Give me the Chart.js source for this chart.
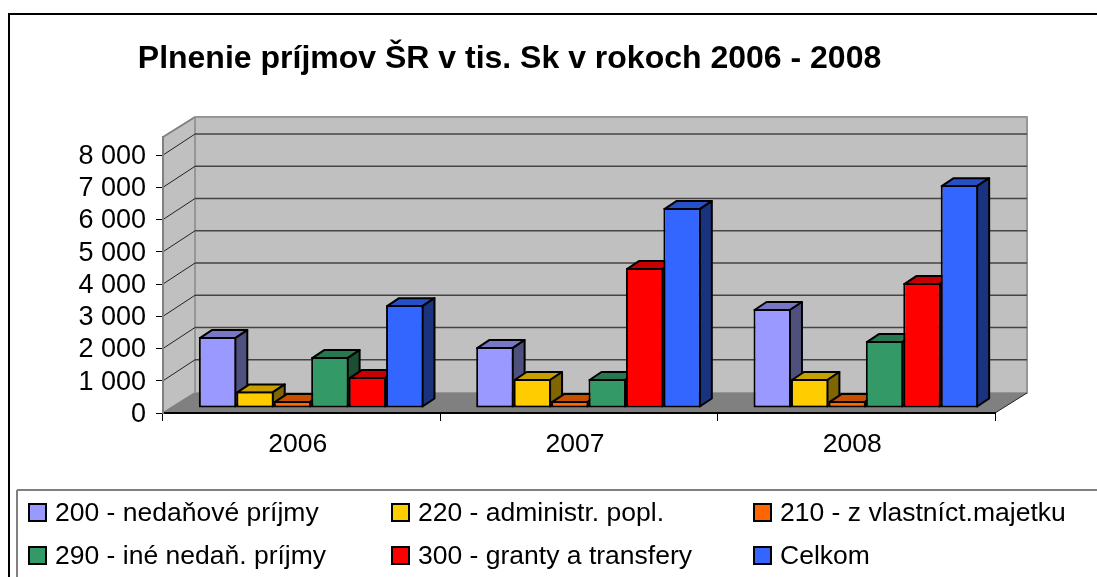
<!DOCTYPE html>
<html>
<head>
<meta charset="utf-8">
<style>
  html, body { margin: 0; padding: 0; background: #fff; overflow: hidden; }
  canvas { display: block; }
</style>
<script src="https://cdn.jsdelivr.net/npm/chart.js@4/dist/chart.umd.min.js"></script>
</head>
<body>
<canvas id="chart" width="1097" height="577"></canvas>
<script>
const titleText = 'Plnenie príjmov ŠR v tis. Sk v rokoch 2006 - 2008';
const categories = ['2006', '2007', '2008'];
const tickValues = [0, 1000, 2000, 3000, 4000, 5000, 6000, 7000, 8000];
const tickLabels = ['0', '1 000', '2 000', '3 000', '4 000', '5 000', '6 000', '7 000', '8 000'];

const seriesNames = ['200 - nedaňové príjmy', '220 - administr. popl.', '210 - z vlastníct.majetku',
                     '290 - iné nedaň. príjmy', '300 - granty a transfery', 'Celkom'];
const s200 = [2200, 1890, 3070];
const s220 = [515, 900, 900];
const s210 = [215, 215, 215];
const s290 = [1580, 900, 2075];
const s300 = [960, 4340, 3875];
const celkom = [3190, 6200, 6910];

const frontColors = ['#9999ff', '#ffcc00', '#ff6600', '#339966', '#ff0000', '#3366ff'];
const topColors = ['#7777c6', '#c69f00', '#c64f00', '#277750', '#c60000', '#274fc6'];
const sideColors = ['#50507f', '#7f6600', '#7f3300', '#1a4f33', '#7f0000', '#1a337f'];

const wallDx = 32, wallDy = 20;   // back wall offset
const gridDy = 21;                // gridlines climb a little more than the wall
const barDx = 9.5, barDy = 5;     // bars stand a bit behind the front axis
const sideDx = 12, sideDy = 8;    // depth of a bar

function poly(ctx, pts, fill, stroke, lw) {
    ctx.beginPath();
    ctx.moveTo(pts[0][0], pts[0][1]);
    for (let i = 1; i < pts.length; i++) ctx.lineTo(pts[i][0], pts[i][1]);
    ctx.closePath();
    if (fill) { ctx.fillStyle = fill; ctx.fill(); }
    if (stroke) { ctx.strokeStyle = stroke; ctx.lineWidth = lw; ctx.lineJoin = 'round'; ctx.stroke(); }
}

function line(ctx, x1, y1, x2, y2, color, lw) {
    ctx.beginPath();
    ctx.moveTo(x1, y1);
    ctx.lineTo(x2, y2);
    ctx.strokeStyle = color;
    ctx.lineWidth = lw;
    ctx.stroke();
}

const walls = {
    id: 'walls',
    beforeDraw(chart) {
        const ctx = chart.ctx, a = chart.chartArea, y = chart.scales.y;
        ctx.save();
        // outer frame, runs off the right and bottom of the picture
        line(ctx, 9, 14, 1097, 14, '#000', 2);
        line(ctx, 9, 13, 9, 577, '#000', 2);
        line(ctx, 17, 490, 1097, 490, '#808080', 2);
        line(ctx, 17, 490, 17, 577, '#808080', 2);

        const l = a.left, r = a.right, t = a.top, b = a.bottom;
        poly(ctx, [[l, b], [l, t], [l + wallDx, t - wallDy], [l + wallDx, b - wallDy]], '#c0c0c0', '#808080', 2);
        poly(ctx, [[l + wallDx, b - wallDy], [l + wallDx, t - wallDy], [r + wallDx, t - wallDy], [r + wallDx, b - wallDy]], '#c0c0c0', '#969696', 2);
        poly(ctx, [[l, b], [l + wallDx, b - wallDy], [r + wallDx, b - wallDy], [r, b]], '#808080');

        // wall gridlines follow the value scale
        tickValues.forEach(v => {
            if (v === 0) return;
            const py = y.getPixelForValue(v);
            line(ctx, l, py, l + wallDx, py - gridDy, '#222', 1);
            line(ctx, l + wallDx, py - gridDy, r + wallDx, py - gridDy, '#444', 1.5);
        });
        line(ctx, r, b, r + wallDx, b - wallDy, '#222', 1);
        ctx.restore();
    },
    // the library paints datasets last to first, here they must go left to right
    beforeDatasetDraw() {
        return false;
    },
    afterDatasetsDraw(chart) {
        const ctx = chart.ctx;
        ctx.save();
        ctx.translate(barDx, -barDy);
        chart.data.datasets.forEach((ds, i) => {
            const meta = chart.getDatasetMeta(i);
            // top and side faces, the library bar then goes over them as the front
            meta.data.forEach(bar => {
                const p = bar.getProps(['x', 'y', 'base', 'width'], true);
                const x1 = p.x - p.width / 2, x2 = p.x + p.width / 2, yTop = p.y, yBase = p.base;
                poly(ctx, [[x1 + 1, yTop + 1], [x1 + 1 + sideDx, yTop + 1 - sideDy], [x2 - 1 + sideDx, yTop + 1 - sideDy], [x2 - 1, yTop + 1]], topColors[i], '#000', 2);
                poly(ctx, [[x2 - 1, yTop + 1], [x2 - 1 + sideDx, yTop + 1 - sideDy], [x2 - 1 + sideDx, yBase - 1 - sideDy], [x2 - 1, yBase - 1]], sideColors[i], '#000', 2);
            });
            meta.controller.draw();
        });
        ctx.restore();
    },
    afterDraw(chart) {
        // legend in three fixed columns
        const ctx = chart.ctx;
        const colX = [29, 392, 754], rowY = [512, 555];
        ctx.save();
        ctx.font = '26.5px "Liberation Sans", Arial, sans-serif';
        ctx.textBaseline = 'middle';
        chart.data.datasets.forEach((ds, i) => {
            const x = colX[i % 3], y = rowY[Math.floor(i / 3)];
            ctx.fillStyle = ds.backgroundColor;
            ctx.fillRect(x, y - 8, 17, 17);
            ctx.strokeStyle = '#000';
            ctx.lineWidth = 2;
            ctx.strokeRect(x, y - 8, 17, 17);
            ctx.fillStyle = '#000';
            ctx.fillText(ds.label, x + 26, y + 2);
        });
        ctx.restore();
    }
};

const seriesValues = [s200, s220, s210, s290, s300, celkom];

new Chart(document.getElementById('chart'), {
    type: 'bar',
    data: {
        labels: categories,
        datasets: seriesValues.map((vals, i) => ({
            label: seriesNames[i],
            data: vals,
            backgroundColor: frontColors[i],
            borderColor: '#000',
            borderWidth: 2,
            borderSkipped: false
        }))
    },
    plugins: [walls],
    options: {
        responsive: false,
        animation: false,
        layout: { padding: { left: 24, right: 102, top: 0, bottom: 0 } },
        datasets: { bar: { barPercentage: 1, categoryPercentage: 0.81 } },
        plugins: {
            legend: { display: false },
            tooltip: { enabled: false },
            title: {
                display: true,
                text: titleText,
                color: '#000',
                font: { family: '"Liberation Sans", Arial, sans-serif', size: 32, weight: 'bold', lineHeight: 1.2 },
                padding: { top: 40, bottom: 58.6 }
            }
        },
        scales: {
            x: {
                grid: { drawOnChartArea: false, color: '#000', tickLength: 8, offset: true },
                border: { color: '#000', width: 2 },
                ticks: {
                    color: '#000',
                    padding: 8,
                    labelOffset: -4,
                    maxRotation: 0,
                    font: { family: '"Liberation Sans", Arial, sans-serif', size: 26.5 }
                },
                afterFit(scale) { scale.height = 577 - 413; }
            },
            y: {
                min: 0,
                max: 8560,
                grid: { drawOnChartArea: false, color: '#000', tickLength: 7 },
                border: { color: '#808080', width: 2 },
                afterBuildTicks(scale) {
                    scale.ticks = tickValues.map(v => ({ value: v }));
                },
                ticks: {
                    autoSkip: false,
                    color: '#000',
                    padding: 10,
                    labelOffset: 1.5,
                    font: { family: '"Liberation Sans", Arial, sans-serif', size: 27 },
                    callback(value) { return tickLabels[tickValues.indexOf(value)]; }
                },
                afterFit(scale) { scale.width = 139; }
            }
        }
    }
});
</script>
</body>
</html>
